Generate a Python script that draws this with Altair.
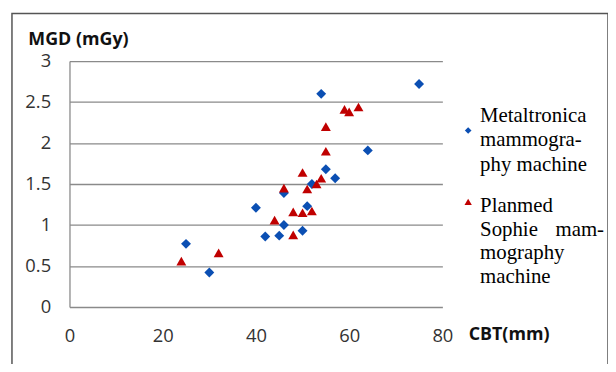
import altair as alt
import pandas as pd

# Metaltronica (blue diamonds)
blue_x = [25, 30, 40, 42, 45, 46, 46, 50, 51, 52, 54, 55, 57, 64, 75]
blue_y = [0.77, 0.42, 1.21, 0.86, 0.87, 1.00, 1.39, 0.93, 1.23, 1.50, 2.60, 1.68, 1.57, 1.91, 2.72]
# Planmed Sophie (red triangles)
red_x = [24, 32, 44, 46, 48, 48, 50, 50, 51, 52, 53, 54, 55, 55, 59, 60, 62]
red_y = [0.56, 0.66, 1.06, 1.45, 1.16, 0.88, 1.64, 1.15, 1.44, 1.17, 1.50, 1.57, 1.90, 2.20, 2.41, 2.38, 2.44]

x_ticks = [0, 20, 40, 60, 80]
y_ticks = [0, 0.5, 1, 1.5, 2, 2.5, 3]

BLUE = "#0B4FB3"
RED = "#C00000"
AXIS_FONT = "Open Sans"
SERIF = "Liberation Serif, Times New Roman, serif"

df_blue = pd.DataFrame({"cbt": blue_x, "mgd": blue_y})
df_red = pd.DataFrame({"cbt": red_x, "mgd": red_y})
one = pd.DataFrame({"k": [0]})

xscale = alt.Scale(domain=[0, 80], nice=False)
yscale = alt.Scale(domain=[0, 3], nice=False)

xaxis = alt.Axis(values=x_ticks, title="CBT(mm)", grid=False, domain=False, ticks=False,
                 labelFont=AXIS_FONT, labelFontSize=18.5, labelColor="#333333", labelPadding=20,
                 labelFlush=False,
                 titleFont=AXIS_FONT, titleFontSize=18, titleFontWeight="bold", titleColor="#111111",
                 titleAngle=0, titleAlign="left", titleBaseline="middle", titleX=402, titleY=28)
yaxis = alt.Axis(values=y_ticks, format="~g", title="MGD (mGy)", grid=True, gridColor="#8a8a8a", gridWidth=1.3,
                 domain=True, domainColor="#8a8a8a", domainWidth=1.3, ticks=False,
                 labelFont=AXIS_FONT, labelFontSize=18.5, labelColor="#333333", labelPadding=19,
                 labelFlush=False,
                 titleFont=AXIS_FONT, titleFontSize=18, titleFontWeight="bold", titleColor="#111111",
                 titleAngle=0, titleAlign="left", titleBaseline="middle", titleX=-42, titleY=-22)

blue_pts = alt.Chart(df_blue).mark_point(shape="diamond", filled=True, size=100, color=BLUE, opacity=1).encode(
    x=alt.X("cbt:Q", scale=xscale, axis=xaxis),
    y=alt.Y("mgd:Q", scale=yscale, axis=yaxis),
)
red_pts = alt.Chart(df_red).mark_point(shape="triangle-up", filled=True, size=100, color=RED, opacity=1).encode(
    x=alt.X("cbt:Q", scale=xscale),
    y=alt.Y("mgd:Q", scale=yscale),
)

frame = alt.Chart(one).mark_rect(fillOpacity=0, stroke="#555555", strokeWidth=1.5).encode(
    x=alt.value(-58), x2=alt.value(543), y=alt.value(-48), y2=alt.value(400)
)

leg1_text = alt.Chart(one).mark_text(
    text=["Metaltronica", "mammogra-", "phy machine"], font=SERIF, fontSize=21, lineHeight=25,
    align="left", baseline="alphabetic", color="#000000"
).encode(x=alt.value(414), y=alt.value(61))
leg2_text = alt.Chart(one).mark_text(
    text=["Planmed", "Sophie", "mography", "machine"], font=SERIF, fontSize=21, lineHeight=24,
    align="left", baseline="alphabetic", color="#000000"
).encode(x=alt.value(414), y=alt.value(152))
leg2_extra = alt.Chart(one).mark_text(
    text="mam-", font=SERIF, fontSize=21, align="right", baseline="alphabetic", color="#000000"
).encode(x=alt.value(539), y=alt.value(176))
leg1_sym = alt.Chart(one).mark_point(shape="diamond", filled=True, size=45, color=BLUE, opacity=1).encode(
    x=alt.value(402), y=alt.value(70))
leg2_sym = alt.Chart(one).mark_point(shape="triangle-up", filled=True, size=55, color=RED, opacity=1).encode(
    x=alt.value(402), y=alt.value(142))

chart = alt.layer(frame, blue_pts, red_pts, leg1_text, leg2_text, leg2_extra, leg1_sym, leg2_sym).properties(
    width=376, height=248,
    autosize=alt.AutoSizeParams(type="none"),
    padding={"left": 62, "top": 52, "right": 167, "bottom": 56},
    background="white",
).configure_view(stroke=None)

chart.save("out.html", embed_options={"renderer": "svg", "actions": False})
